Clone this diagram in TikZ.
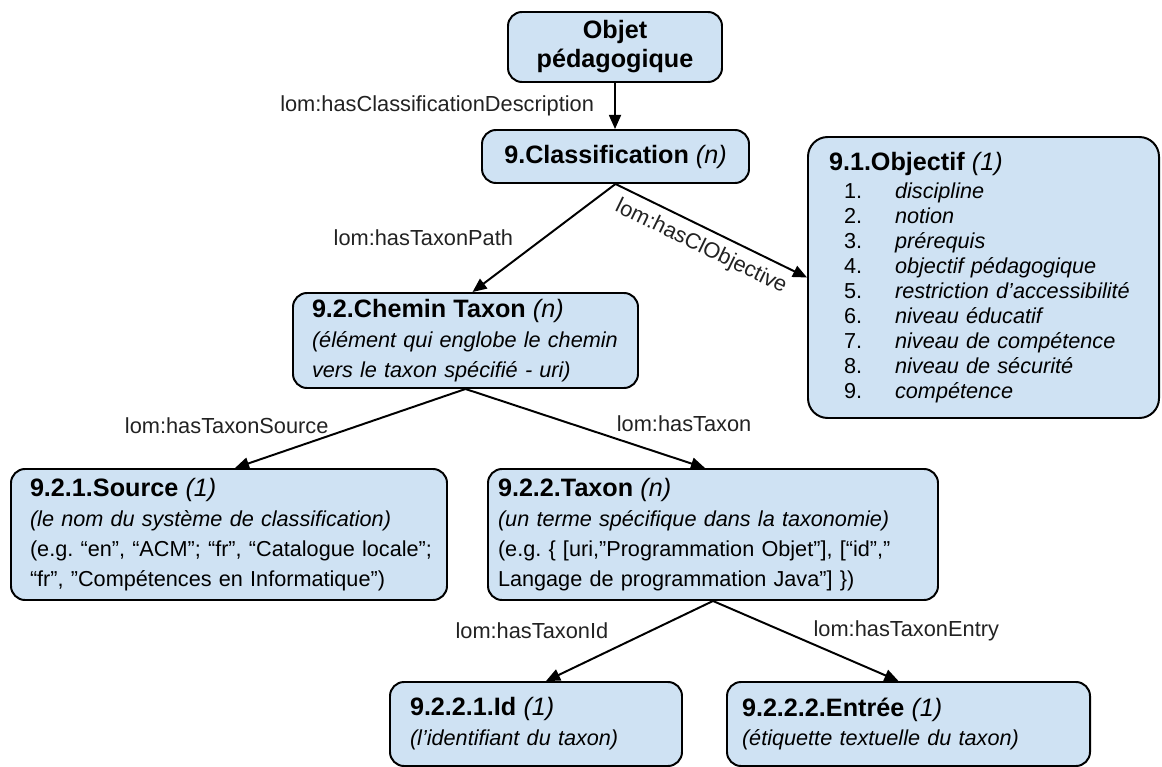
\documentclass[tikz,border=0pt]{standalone}
\usepackage{fontspec}
\setmainfont{Liberation Sans}
\usetikzlibrary{arrows.meta}
\definecolor{LomBlue}{HTML}{CFE2F3}
\definecolor{LomDark}{HTML}{000000}
\definecolor{LomGray}{HTML}{222222}
\newdimen\pxu
\pxu=0.025cm
\frenchspacing
\newcommand{\boxtitle}[2]{{\fontsize{17.9}{21.3}\selectfont\textbf{#1} \textit{#2}}}
\newcommand{\objitem}[2]{\hspace*{10.7pt}\makebox[36.3pt][l]{#1}\textit{#2}}

\begin{document}
\begin{tikzpicture}[
    x=0.025cm, y=-0.025cm,
    box/.style={rectangle, draw=LomDark, rounded corners=10pt, fill=LomBlue, line width=1.4pt, inner ysep=0pt, align=left, font=\fontsize{15.4}{21.3}\selectfont},
    lbl/.style={text=LomGray, font=\fontsize{15.5}{18}\selectfont, inner sep=0pt},
    arrow/.style={-{Triangle[length=10pt, width=8.5pt]}, line width=1.4pt, LomDark}
]
\useasboundingbox (0,0) rectangle (1162,767);

% Nodes
\node[box, align=center, minimum width=214\pxu, minimum height=70\pxu, font=\fontsize{17.9}{20.6}\selectfont\bfseries] (objet) at (615,47) {Objet\\pédagogique};
\node[box, align=center, minimum width=267\pxu, minimum height=53\pxu] (classif) at (615.5,156.5) {\boxtitle{9.Classification}{(n)}};
\node[box, rounded corners=14pt, text width=309\pxu, inner xsep=21\pxu, minimum height=281\pxu, font=\fontsize{15.4}{17.8}\selectfont] (objectif) at (983.5,277.5) {\boxtitle{9.1.Objectif}{(1)}\\[2pt]
  \objitem{1.}{discipline}\\
  \objitem{2.}{notion}\\
  \objitem{3.}{prérequis}\\
  \objitem{4.}{objectif pédagogique}\\
  \objitem{5.}{restriction d’accessibilité}\\
  \objitem{6.}{niveau éducatif}\\
  \objitem{7.}{niveau de compétence}\\
  \objitem{8.}{niveau de sécurité}\\
  \objitem{9.}{compétence}};
\node[box, text width=307\pxu, inner xsep=19\pxu, minimum height=95\pxu] (chemin) at (465.5,340.5) {\boxtitle{9.2.Chemin Taxon}{(n)}\\
  \textit{(élément qui englobe le chemin}\\
  \textit{vers le taxon spécifié - uri)}};
\node[box, text width=398\pxu, inner xsep=19\pxu, minimum height=131\pxu] (source) at (229,534.5) {\boxtitle{9.2.1.Source}{(1)}\\
  \textit{(le nom du système de classification)}\\
  \mbox{(e.g. “en”, “ACM”; “fr”, “Catalogue locale”;}\\
  “fr”, ”Compétences en Informatique”)};
\node[box, text width=430\pxu, inner xsep=10\pxu, minimum height=131\pxu] (taxon) at (713,534.5) {\boxtitle{9.2.2.Taxon}{(n)}\\
  \textit{(un terme spécifique dans la taxonomie)}\\
  \mbox{(e.g. \{ [uri,”Programmation Objet”], [“id”,”}\\
  Langage de programmation Java”] \})};
\node[box, text width=252\pxu, inner xsep=20\pxu, minimum height=84\pxu] (ident) at (536,724) {\boxtitle{9.2.2.1.Id}{(1)}\\
  \textit{(l’identifiant du taxon)}};
\node[box, text width=333\pxu, inner xsep=15\pxu, minimum height=84\pxu] (entree) at (908.5,724) {\boxtitle{9.2.2.2.Entrée}{(1)}\\
  \textit{(étiquette textuelle du taxon)}};

% Arrows
\draw[arrow] (objet.south) -- node[lbl, anchor=east, xshift=-20\pxu] {lom:hasClassificationDescription} (objet.south |- classif.north);
\draw[arrow] (classif.south) -- node[lbl, pos=0.5, anchor=east, xshift=-30\pxu] {lom:hasTaxonPath} ([xshift=7\pxu]chemin.north);
\draw[arrow] (classif.south) -- node[lbl, pos=0.49, sloped, below=8\pxu] {lom:hasClObjective} (objectif.west);
\draw[arrow] (chemin.south) -- node[lbl, pos=0.46, anchor=east, xshift=-30\pxu] {lom:hasTaxonSource} ([xshift=6\pxu]source.north);
\draw[arrow] (chemin.south) -- node[lbl, pos=0.44, anchor=west, xshift=45\pxu] {lom:hasTaxon} ([xshift=-8\pxu]taxon.north);
\draw[arrow] (taxon.south) -- node[lbl, pos=0.37, anchor=east, xshift=-42\pxu] {lom:hasTaxonId} ([xshift=10\pxu]ident.north);
\draw[arrow] (taxon.south) -- node[lbl, pos=0.37, anchor=west, xshift=31\pxu] {lom:hasTaxonEntry} ([xshift=-10\pxu]entree.north);

\end{tikzpicture}
\end{document}
